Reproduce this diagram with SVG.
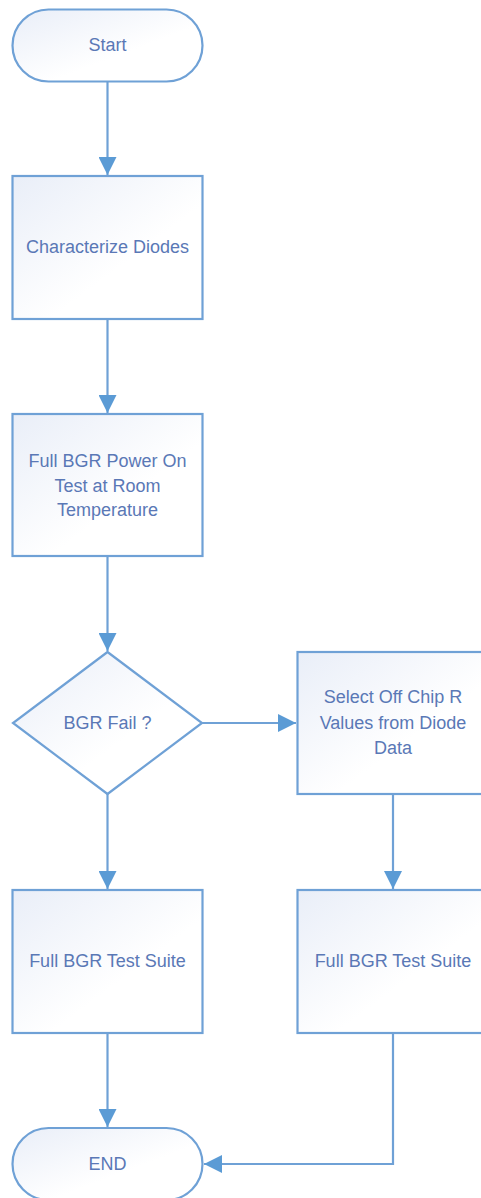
<svg xmlns="http://www.w3.org/2000/svg" width="481" height="1198" viewBox="0 0 481 1198">
<style>
.shape{fill:url(#g);stroke:#6fa1d6;stroke-width:2.2}
.lbl{font-family:"Liberation Sans",Arial,sans-serif;font-size:18px;fill:#5a78b6;text-anchor:middle;dominant-baseline:central}
.conn{fill:none;stroke:#6fa1d6;stroke-width:2.2}
</style>
<defs>
<linearGradient id="g" x1="0" y1="0" x2="1" y2="1">
<stop offset="0" stop-color="#e9eef8"/>
<stop offset="0.6" stop-color="#ffffff"/>
<stop offset="1" stop-color="#ffffff"/>
</linearGradient>
<marker id="arr" markerWidth="18" markerHeight="18" viewBox="0 0 18 18" refX="18" refY="9" orient="auto" markerUnits="userSpaceOnUse">
<path d="M0,0 L18,9 L0,18 Z" fill="#5b9bd5"/>
</marker>
</defs>
<rect width="481" height="1198" fill="#ffffff"/>
<g id="connectors">
<line class="conn" x1="107.5" y1="82" x2="107.5" y2="175" marker-end="url(#arr)"/>
<line class="conn" x1="107.5" y1="319" x2="107.5" y2="413" marker-end="url(#arr)"/>
<line class="conn" x1="107.5" y1="556" x2="107.5" y2="651" marker-end="url(#arr)"/>
<line class="conn" x1="202" y1="723" x2="296" y2="723" marker-end="url(#arr)"/>
<line class="conn" x1="107.5" y1="794" x2="107.5" y2="889" marker-end="url(#arr)"/>
<line class="conn" x1="393" y1="794" x2="393" y2="889" marker-end="url(#arr)"/>
<line class="conn" x1="107.5" y1="1033" x2="107.5" y2="1127" marker-end="url(#arr)"/>
<polyline class="conn" points="393,1033 393,1164 204,1164" marker-end="url(#arr)"/>
</g>
<g id="start">
<rect class="shape" x="12.5" y="9.5" width="190" height="72" rx="36" ry="36"/>
<text class="lbl" x="107.5" y="45">Start</text>
</g>
<g id="characterize">
<rect class="shape" x="12.5" y="176" width="190" height="143"/>
<text class="lbl" x="107.5" y="247">Characterize Diodes</text>
</g>
<g id="poweron">
<rect class="shape" x="12.5" y="414" width="190" height="142"/>
<text class="lbl" x="107.5" y="461">Full BGR Power On</text>
<text class="lbl" x="107.5" y="485.5">Test at Room</text>
<text class="lbl" x="107.5" y="510">Temperature</text>
</g>
<g id="decision">
<polygon class="shape" points="107.5,652 202,723 107.5,794 13,723"/>
<text class="lbl" x="107.5" y="723">BGR Fail ?</text>
</g>
<g id="select">
<rect class="shape" x="297.5" y="652" width="191" height="142"/>
<text class="lbl" x="393" y="697">Select Off Chip R</text>
<text class="lbl" x="393" y="722.5">Values from Diode</text>
<text class="lbl" x="393" y="748">Data</text>
</g>
<g id="suite1">
<rect class="shape" x="12.5" y="890" width="190" height="143"/>
<text class="lbl" x="107.5" y="961">Full BGR Test Suite</text>
</g>
<g id="suite2">
<rect class="shape" x="297.5" y="890" width="191" height="143"/>
<text class="lbl" x="393" y="961">Full BGR Test Suite</text>
</g>
<g id="end">
<rect class="shape" x="12.5" y="1128" width="190" height="72" rx="36" ry="36"/>
<text class="lbl" x="107.5" y="1164">END</text>
</g>
</svg>
